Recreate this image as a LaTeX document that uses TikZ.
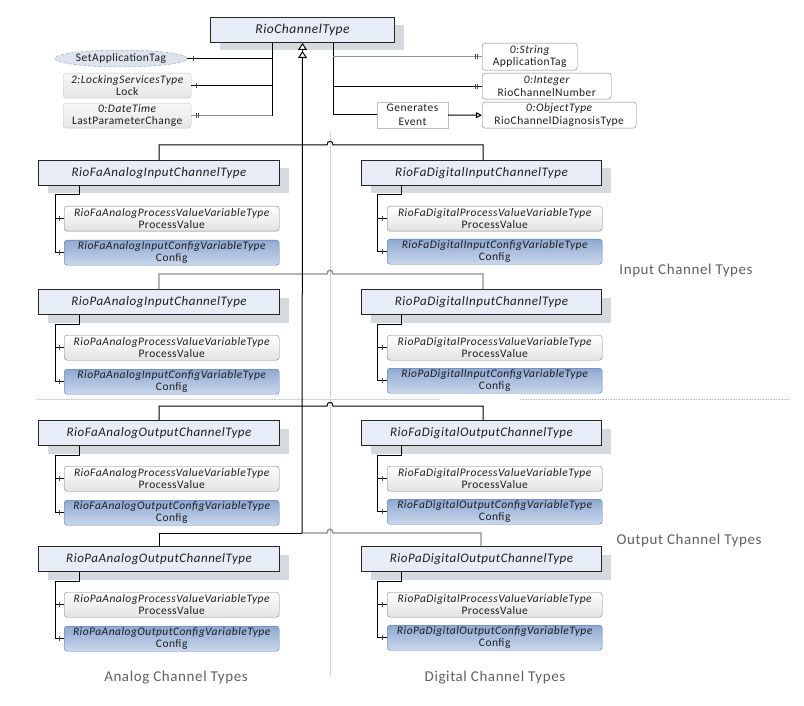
\documentclass[tikz,border=0pt]{standalone}
\usepackage{fontspec}
\setmainfont[LetterSpace=4]{Carlito}
\usetikzlibrary{arrows.meta,shadows,shapes.geometric}
\definecolor{tfill}{HTML}{E7EDF7}
\definecolor{shgray}{HTML}{D6D9DE}
\definecolor{cfgtop}{HTML}{8FA9D2}
\definecolor{cfgbot}{HTML}{CAD7EC}
\definecolor{cfgline}{HTML}{5373A6}
\definecolor{pvbot}{HTML}{E2E2E2}
\definecolor{pvline}{HTML}{7F7F7F}
\definecolor{lgline}{HTML}{C4C4C4}
\definecolor{conngray}{HTML}{8E8E8E}
\definecolor{labgray}{HTML}{606060}
\definecolor{ellfill}{HTML}{DCE3EF}
\definecolor{divgray}{HTML}{BFBFBF}
\definecolor{txt}{HTML}{1E1E1E}
\tikzset{
  tbox/.style={draw=black!85, line width=1pt, fill=tfill, minimum width=#1, minimum height=25,
    inner sep=0, anchor=north west, text=txt, font=\fontsize{13}{15}\selectfont\itshape,
    general shadow={fill=shgray, shadow xshift=9pt, shadow yshift=-8pt}},
  smallbox/.style={rounded corners=3pt, minimum width=#1, minimum height=25, inner sep=0,
    anchor=north west, align=center, text=txt, font=\fontsize{11.5}{12.5}\selectfont},
  pvbox/.style={smallbox=#1, draw=pvline, top color=white, bottom color=pvbot},
  cfgbox/.style={smallbox=#1, draw=cfgline, top color=cfgtop, bottom color=cfgbot},
  propbox/.style={smallbox=#1, draw=lgline, top color=black!3, bottom color=black!10},
  attrbox/.style={smallbox=#1, draw=pvline, fill=white},
  conn/.style={line width=1pt, black},
  gconn/.style={line width=1.4pt, conngray},
  tick/.style={line width=0.8pt, black!70},
  divider/.style={divgray, densely dotted, line width=0.6pt},
  grouplabel/.style={text=labgray, font=\fontsize{15}{17}\selectfont},
}
\newcommand{\leftblock}[5]{%
  \node[tbox=241] (#1) at (38,#2) {#3};
  \node[pvbox=215] (#1pv) at (64,#2+46) {{\itshape #4}\\ProcessValue};
  \node[cfgbox=215] (#1cf) at (64,#2+80) {{\itshape #5}\\Config};
  \coordinate (#1j) at (55,#2+35);
  \draw[conn] ([xshift=41pt]#1.south west) |- (#1j) -- (#1j |- #1cf.west) -- (#1cf.west);
  \draw[conn] (#1j |- #1pv.west) -- (#1pv.west);
  \draw[tick] ([xshift=-5pt,yshift=2.5pt]#1pv.west) -- ++(0,5);
  \draw[tick] ([xshift=-5pt,yshift=2.5pt]#1cf.west) -- ++(0,5);
}
\newcommand{\rightblock}[5]{%
  \node[tbox=240] (#1) at (361,#2) {#3};
  \node[pvbox=215] (#1pv) at (387,#2+46) {{\itshape #4}\\ProcessValue};
  \node[cfgbox=215] (#1cf) at (387,#2+79) {{\itshape #5}\\Config};
  \coordinate (#1j) at (377,#2+35);
  \draw[conn] ([xshift=40pt]#1.south west) |- (#1j) -- (#1j |- #1cf.west) -- (#1cf.west);
  \draw[conn] (#1j |- #1pv.west) -- (#1pv.west);
  \draw[tick] ([xshift=-5pt,yshift=2.5pt]#1pv.west) -- ++(0,5);
  \draw[tick] ([xshift=-5pt,yshift=2.5pt]#1cf.west) -- ++(0,5);
}
\begin{document}
\begin{tikzpicture}[x=1pt,y=-1pt]
\useasboundingbox (0,0) rectangle (804,706);
% dividers
\draw[divider] (330,133) -- (330,675);
\draw[divider] (37,399) -- (440,399);
\draw[divider] (520,399) -- (790,399);

% top type
\node[tbox=184, font=\fontsize{13.5}{15}\selectfont\itshape] (rct) at (210,17) {RioChannelType};
\coordinate (hl) at (272,43);
\coordinate (hr) at (333,43);

% left properties
\node[ellipse, draw=black!35, densely dashed, line width=0.5pt, fill=ellfill, minimum width=132, minimum height=17, inner sep=0,
  text=txt, font=\fontsize{11.5}{13}\selectfont] (setapp) at (121,58.5) {SetApplicationTag};
\node[propbox=128] (lock) at (63,73) {{\itshape 2:LockingServicesType}\\Lock};
\node[propbox=128] (lpc) at (63,103) {{\itshape 0:DateTime}\\LastParameterChange};
\draw[conn] (hl) -- (hl |- lpc.east);
\draw[conn] (setapp.east) -- (setapp.east -| hl);
\draw[conn] (lock.east) -- (lock.east -| hl);
\draw[gconn] (lpc.east) -- (lpc.east -| hl);
\draw[tick] ([xshift=6pt,yshift=2.5pt]setapp.east) -- ++(0,5);
\draw[tick] ([xshift=5pt,yshift=2.5pt]lock.east) -- ++(0,5);
\draw[tick] ([xshift=5pt,yshift=2.5pt]lpc.east) -- ++(0,5);
\draw[tick] ([xshift=7pt,yshift=2.5pt]lpc.east) -- ++(0,5);

% right properties
\node[attrbox=95, minimum height=27] (apptag) at (482,43) {{\itshape 0:String}\\ApplicationTag};
\node[attrbox=129, minimum height=26] (rcn) at (482,73) {{\itshape 0:Integer}\\RioChannelNumber};
\node[attrbox=154, minimum height=26] (rcd) at (482,102) {{\itshape 0:ObjectType}\\RioChannelDiagnosisType};
\node[draw=black!25, fill=white, minimum width=71, minimum height=26, inner sep=0, align=center,
  text=txt, font=\fontsize{11.5}{14}\selectfont] (ev) at (412.5,115) {Generates\\Event};
\draw[conn] (hr) -- (hr |- ev.west) -- (ev.west);
\draw[gconn] (hr |- apptag.west) -- (apptag.west);
\draw[conn] (hr |- rcn.west) -- (rcn.west);
\draw[conn, -{Triangle[open,length=6pt,width=6pt]}] (ev.east) -- (rcd.west);
\draw[tick] ([xshift=-7pt,yshift=2.5pt]apptag.west) -- ++(0,5);
\draw[tick] ([xshift=-5pt,yshift=2.5pt]apptag.west) -- ++(0,5);
\draw[tick] ([xshift=-7pt,yshift=2.5pt]rcn.west) -- ++(0,5);
\draw[tick] ([xshift=-5pt,yshift=2.5pt]rcn.west) -- ++(0,5);

% blocks
\leftblock{a1}{160}{RioFaAnalogInputChannelType}{RioFaAnalogProcessValueVariableType}{RioFaAnalogInputConfigVariableType}
\rightblock{d1}{160}{RioFaDigitalInputChannelType}{RioFaDigitalProcessValueVariableType}{RioFaDigitalInputConfigVariableType}
\leftblock{a2}{289}{RioPaAnalogInputChannelType}{RioPaAnalogProcessValueVariableType}{RioPaAnalogInputConfigVariableType}
\rightblock{d2}{289}{RioPaDigitalInputChannelType}{RioPaDigitalProcessValueVariableType}{RioPaDigitalInputConfigVariableType}
\leftblock{a3}{420}{RioFaAnalogOutputChannelType}{RioFaAnalogProcessValueVariableType}{RioFaAnalogOutputConfigVariableType}
\rightblock{d3}{420}{RioFaDigitalOutputChannelType}{RioFaDigitalProcessValueVariableType}{RioFaDigitalOutputConfigVariableType}
\leftblock{a4}{546}{RioPaAnalogOutputChannelType}{RioPaAnalogProcessValueVariableType}{RioPaAnalogOutputConfigVariableType}
\rightblock{d4}{546}{RioPaDigitalOutputChannelType}{RioPaDigitalProcessValueVariableType}{RioPaDigitalOutputConfigVariableType}

% branches to trunk
\draw[conn] ([xshift=121pt]a1.north west) -- ++(0,-15) -- (327,145) .. controls (327,140) and (333,140) .. (333,145)
  -- ([xshift=122pt,yshift=15pt]d1.north west) -- ([xshift=122pt]d1.north west);
\draw[gconn] ([xshift=121pt]a2.north west) -- ++(0,-15) -- (327,274) .. controls (327,269) and (333,269) .. (333,274)
  -- ([xshift=122pt,yshift=15pt]d2.north west) -- ([xshift=122pt]d2.north west);
\draw[conn] ([xshift=121pt]a3.north west) -- ++(0,-14) -- (327,406) .. controls (327,401) and (333,401) .. (333,406)
  -- ([xshift=122pt,yshift=14pt]d3.north west) -- ([xshift=122pt]d3.north west);
\draw[conn] ([xshift=121pt]a4.north west) -- ++(0,-13) -- (302,533);
\draw[gconn] (302,533) -- (327,533) .. controls (327,528) and (333,528) .. (333,533)
  -- ([xshift=120pt,yshift=13pt]d4.north west) -- ([xshift=120pt]d4.north west);

% trunk with generalization arrows
\coordinate (tr) at (302,533);
\draw[conn, -{Triangle[fill=white,length=7pt,width=9pt]}] ([yshift=-15pt]rct.south) -- (rct.south);
\draw[conn, -{Triangle[fill=white,length=7pt,width=9pt]}] (tr) -- ([yshift=-8pt]rct.south);

% group labels
\node[grouplabel] (lin) at (686,271) {Input Channel Types};
\node[grouplabel] (lout) at (689,540) {Output Channel Types};
\node[grouplabel] (lana) at (176,678) {Analog Channel Types};
\node[grouplabel] (ldig) at (495,678) {Digital Channel Types};
\end{tikzpicture}
\end{document}
